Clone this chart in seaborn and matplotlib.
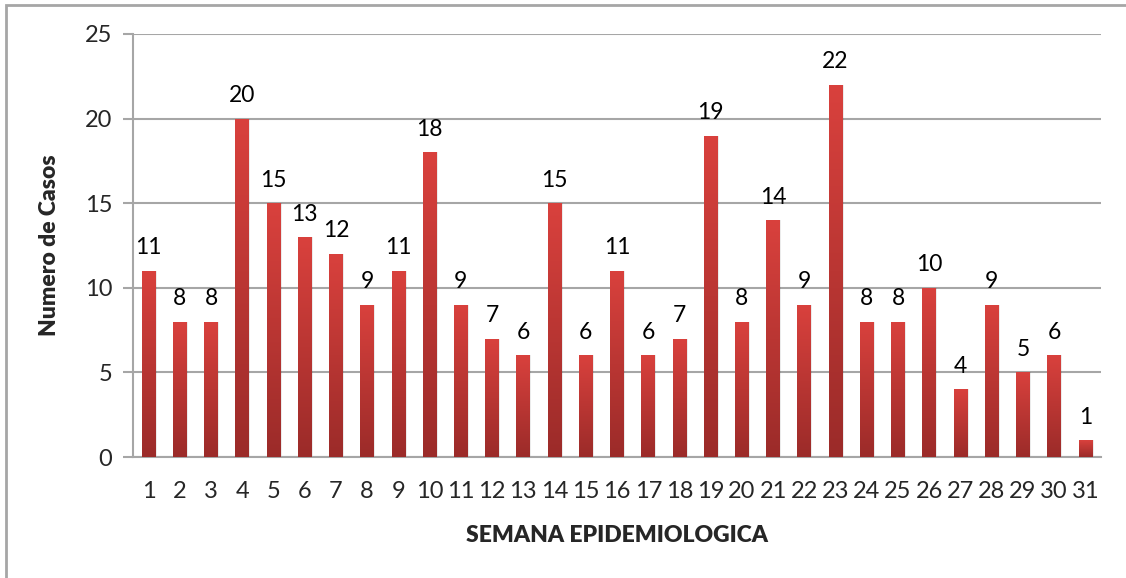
import numpy as np
import pandas as pd
import seaborn as sns
import matplotlib.pyplot as plt
from matplotlib.colors import LinearSegmentedColormap
from matplotlib.patches import Rectangle

# Data
semanas = [str(i) for i in range(1, 32)]
casos = [11, 8, 8, 20, 15, 13, 12, 9, 11, 18, 9, 7, 6, 15, 6, 11,
         6, 7, 19, 8, 14, 9, 22, 8, 8, 10, 4, 9, 5, 6, 1]
y_ticks = [0, 5, 10, 15, 20, 25]

df = pd.DataFrame({"semana": semanas, "casos": casos})

sns.set_style("white")
plt.rcParams["font.family"] = ["Lato", "DejaVu Sans"]

fig = plt.figure(figsize=(11.26, 5.78), dpi=100)
ax = fig.add_axes([0.1181, 0.2093, 0.8597, 0.7319])

# outer frame (runs off the right and bottom of the picture)
fig.patches.append(Rectangle((6 / 1126, -0.05), 1.2, 0.05 + 1 - 5 / 578,
                             transform=fig.transFigure, fill=False,
                             edgecolor="#a6a6a6", linewidth=2, zorder=0))

sns.barplot(data=df, x="semana", y="casos", color="#c0392b",
            width=0.44, ax=ax, zorder=3)

# vertical gradient on every bar
cmap = LinearSegmentedColormap.from_list("rojo", ["#9b2b29", "#d9413d"])
grad = np.linspace(0, 1, 256).reshape(-1, 1)
for p in ax.patches:
    x0, y0 = p.get_x(), p.get_y()
    w, h = p.get_width(), p.get_height()
    # soft shadow
    ax.add_patch(Rectangle((x0 + 0.04, y0), w, h, facecolor="#000000",
                           alpha=0.08, edgecolor="none", zorder=2))
    im = ax.imshow(grad, cmap=cmap, origin="lower", aspect="auto",
                   extent=[x0, x0 + w, y0, y0 + h], zorder=4)
    im.set_clip_path(p)
    p.set_facecolor("none")
    p.set_edgecolor("none")

for i, v in enumerate(casos):
    ax.annotate(str(v), (i, v), xytext=(0, 9), textcoords="offset points",
                ha="center", va="bottom", fontsize=16.5, color="black")

ax.set_xlim(-0.5, len(semanas) - 0.5)
ax.set_ylim(0, 25)
ax.set_yticks(y_ticks)
ax.yaxis.grid(True, color="#a6a6a6", linewidth=1.5, zorder=0)
ax.set_axisbelow(True)

for s in ["top", "right"]:
    ax.spines[s].set_visible(False)
for s in ["left", "bottom"]:
    ax.spines[s].set_color("#a6a6a6")
    ax.spines[s].set_linewidth(1.5)

ax.tick_params(axis="y", which="major", left=True, length=7, width=1.5,
               color="#a6a6a6", labelsize=17, pad=8)
ax.tick_params(axis="x", bottom=False, labelsize=17, pad=14)

ax.set_xlabel("SEMANA EPIDEMIOLOGICA", fontsize=16.5, fontweight="heavy",
              labelpad=16)
ax.set_ylabel("Numero de Casos", fontsize=16.5, fontweight="heavy",
              labelpad=18)

fig.savefig("out.png", dpi=100)
